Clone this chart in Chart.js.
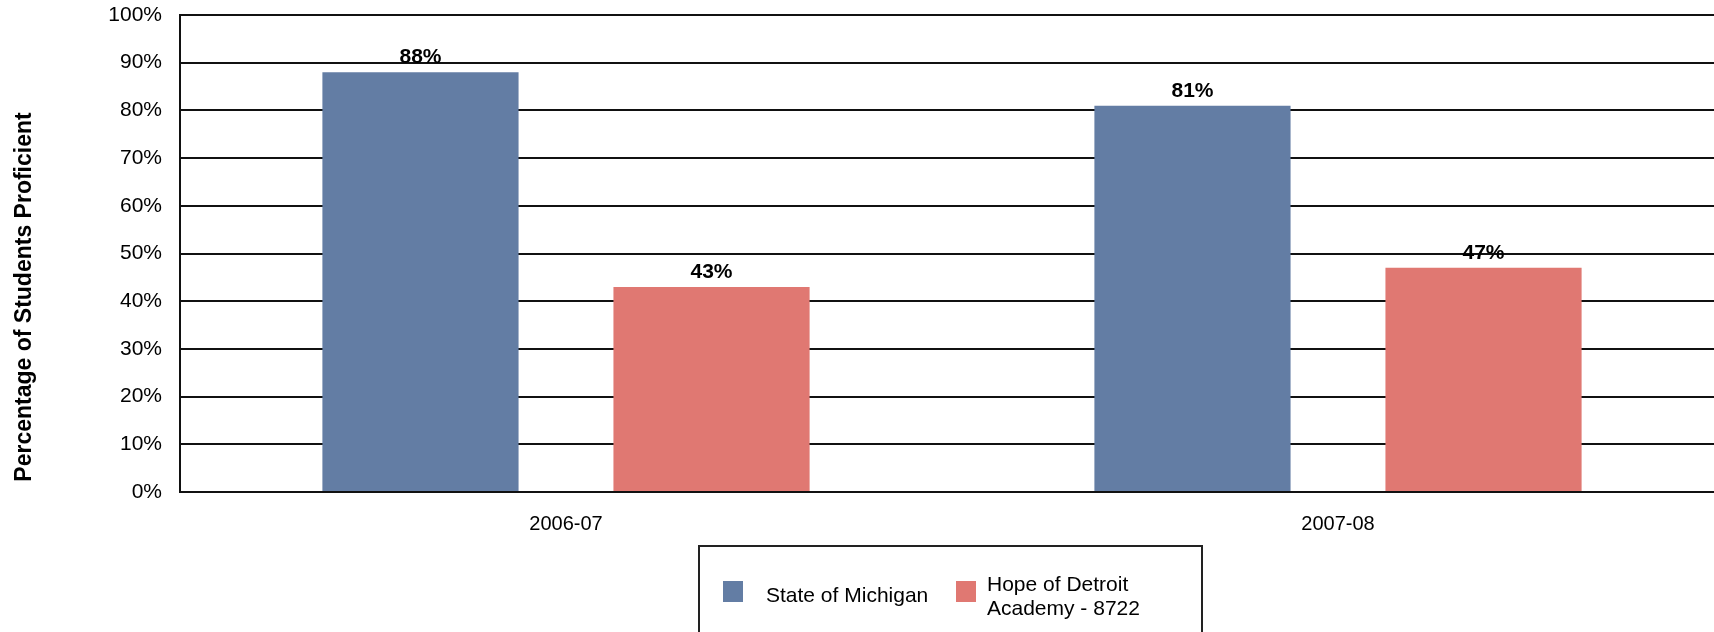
<!DOCTYPE html>
<html>
<head>
<meta charset="utf-8">
<script src="https://cdn.jsdelivr.net/npm/chart.js@4/dist/chart.umd.min.js"></script>
<style>
  html, body { margin: 0; padding: 0; background: #fff; overflow: hidden; }
  #wrap { position: relative; width: 1714px; height: 632px; overflow: hidden; }
  canvas { position: absolute; left: 0; top: 0; }
  .lg-box { position: absolute; left: 698px; top: 545px; width: 501px; height: 120px; border: 2px solid #222; }
  .lg-sw { position: absolute; width: 20px; height: 21px; }
  .lg-tx { position: absolute; font-family: "Liberation Sans", Arial, sans-serif; font-size: 21px; line-height: 24px; color: #000; white-space: nowrap; }
</style>
</head>
<body>
<div id="wrap">
  <canvas id="c" width="1724" height="632"></canvas>
  <div class="lg-box"></div>
  <div id="legend"></div>
</div>
<script>
const categories = ['2006-07', '2007-08'];
const seriesNames = ['State of Michigan', ['Hope of Detroit', 'Academy - 8722']];
const stateValues = [88, 81];
const schoolValues = [43, 47];
const yTickValues = [0, 10, 20, 30, 40, 50, 60, 70, 80, 90, 100];
const yTitle = 'Percentage of Students Proficient';
const seriesColors = ['#637DA4', '#E07872'];

const FONT = '"Liberation Sans", Arial, sans-serif';

const dataLabelPlugin = {
  id: 'dataLabels',
  afterDatasetsDraw(chart) {
    const ctx = chart.ctx;
    ctx.save();
    ctx.font = 'bold 21px ' + FONT;
    ctx.fillStyle = '#000';
    ctx.textAlign = 'center';
    ctx.textBaseline = 'alphabetic';
    chart.data.datasets.forEach((ds, i) => {
      const meta = chart.getDatasetMeta(i);
      meta.data.forEach((el, j) => {
        ctx.fillText(ds.data[j] + '%', el.x, el.y - 9);
      });
    });
    ctx.restore();
  }
};

const yTitlePlugin = {
  id: 'yTitleCustom',
  afterDraw(chart) {
    const ctx = chart.ctx;
    ctx.save();
    ctx.translate(25, 297);
    ctx.rotate(-Math.PI / 2);
    ctx.font = 'bold 23px ' + FONT;
    ctx.fillStyle = '#000';
    ctx.textAlign = 'center';
    ctx.textBaseline = 'middle';
    ctx.fillText(yTitle, 0, 0);
    ctx.restore();
  }
};

const chart = new Chart(document.getElementById('c'), {
  type: 'bar',
  data: {
    labels: categories,
    datasets: [
      { label: 'State of Michigan', data: stateValues, backgroundColor: seriesColors[0], borderWidth: 0 },
      { label: 'Hope of Detroit Academy - 8722', data: schoolValues, backgroundColor: seriesColors[1], borderWidth: 0 }
    ]
  },
  options: {
    responsive: false,
    animation: false,
    layout: { padding: { top: 15, right: 0, bottom: 0, left: 0 } },
    categoryPercentage: 0.754,
    barPercentage: 0.674,
    plugins: { legend: { display: false }, tooltip: { enabled: false }, title: { display: false } },
    scales: {
      x: {
        grid: { display: false },
        border: { display: false },
        ticks: { font: { family: FONT, size: 20 }, color: '#000', padding: 12 },
        afterFit(scale) { scale.height = 140; scale.paddingLeft = 0; scale.paddingRight = 0; }
      },
      y: {
        min: 0, max: 100,
        afterBuildTicks(scale) { scale.ticks = yTickValues.map(v => ({ value: v })); },
        ticks: { font: { family: FONT, size: 21 }, color: '#000', padding: 18, callback: v => v + '%' },
        grid: { color: '#111', lineWidth: 2, drawTicks: false },
        border: { display: true, color: '#111', width: 2 },
        afterFit(scale) { scale.width = 180; scale.paddingTop = 0; scale.paddingBottom = 0; }
      }
    }
  },
  plugins: [dataLabelPlugin, yTitlePlugin]
});

// HTML legend built from series arrays
const legend = document.getElementById('legend');
const swatchPos = [{ l: 723, t: 581 }, { l: 956, t: 581 }];
const textPos = [{ l: 766, t: 583 }, { l: 987, t: 572 }];
seriesNames.forEach((name, i) => {
  const sw = document.createElement('div');
  sw.className = 'lg-sw';
  sw.style.left = swatchPos[i].l + 'px';
  sw.style.top = swatchPos[i].t + 'px';
  sw.style.background = seriesColors[i];
  legend.appendChild(sw);
  const tx = document.createElement('div');
  tx.className = 'lg-tx';
  tx.style.left = textPos[i].l + 'px';
  tx.style.top = textPos[i].t + 'px';
  tx.innerHTML = (Array.isArray(name) ? name : [name]).join('<br>');
  legend.appendChild(tx);
});
</script>
</body>
</html>
